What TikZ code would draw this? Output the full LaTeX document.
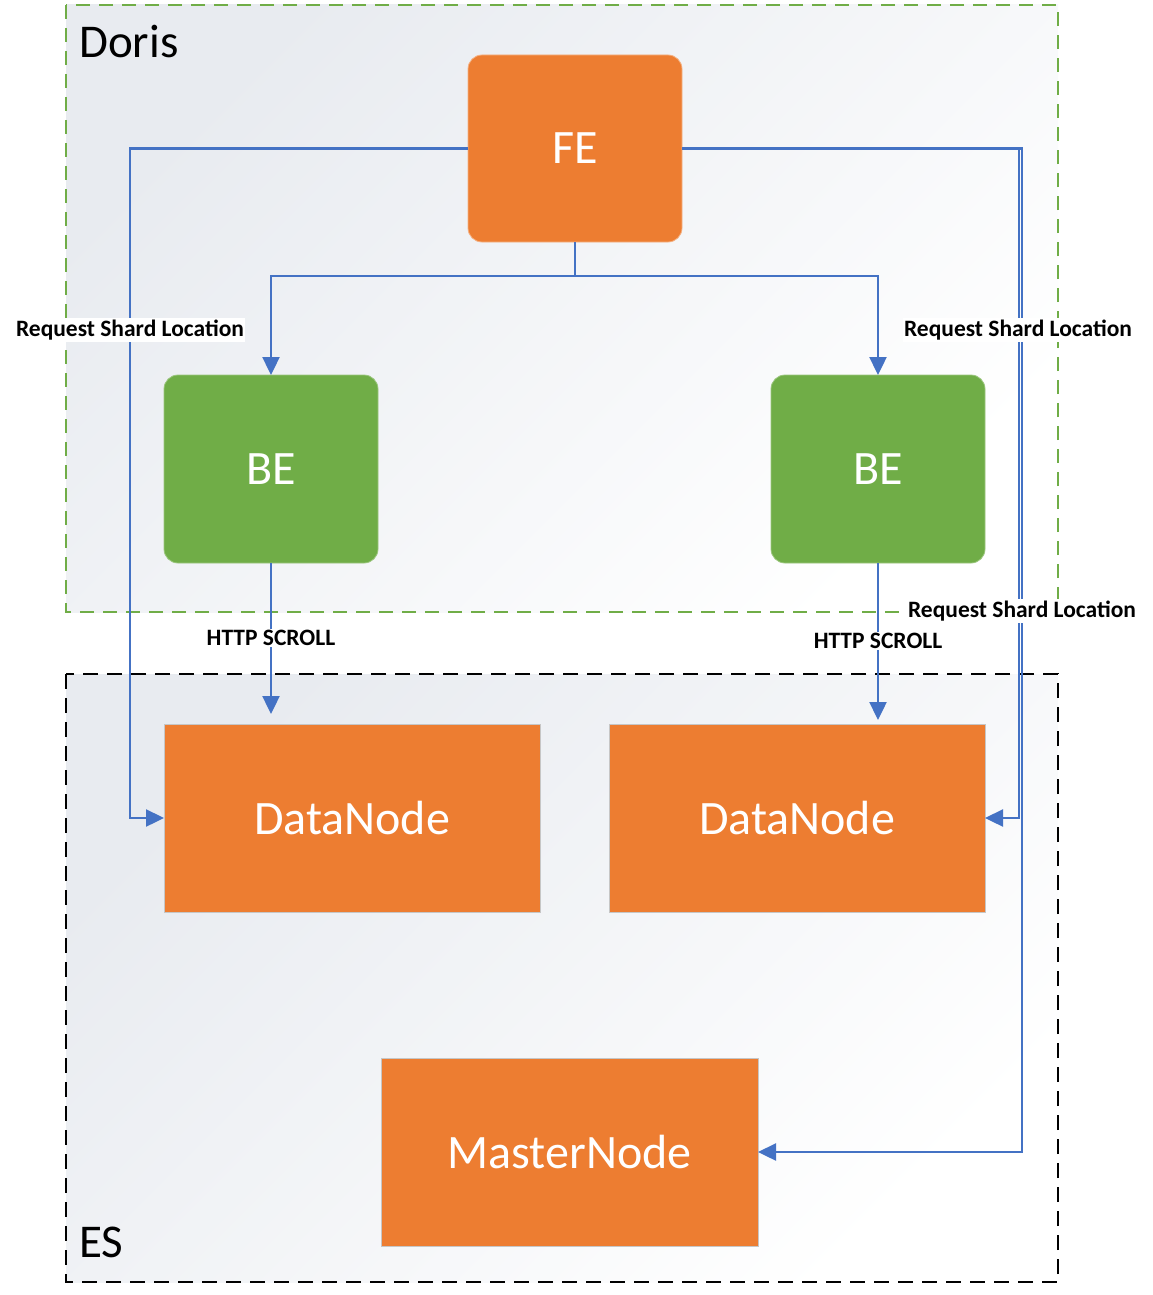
\documentclass[tikz,border=0pt]{standalone}
\usepackage{fontspec}
\setmainfont{Carlito}
\usetikzlibrary{arrows.meta}
\definecolor{dorange}{HTML}{ED7D31}
\definecolor{dgreen}{HTML}{70AD47}
\definecolor{dblue}{HTML}{4472C4}
\definecolor{bggray}{HTML}{E8EBF0}
\tikzset{
  fontbig/.style={font=\fontsize{48}{48}\selectfont},
  orbox/.style={fill=dorange, draw=gray!45, line width=0.8pt, text=white, inner sep=0pt, outer sep=0pt, fontbig},
  rbox/.style={orbox, rounded corners=14pt, draw=dorange!60!white},
  gbox/.style={fill=dgreen, draw=dgreen!70!white, line width=0.8pt, rounded corners=14pt, text=white, inner sep=0pt, outer sep=0pt, fontbig, minimum width=214pt, minimum height=188pt},
  conn/.style={draw=dblue, line width=2.4pt, -{Triangle[length=18pt,width=17pt]}},
  lbl/.style={fill=white, inner sep=1.5pt, font=\bfseries\fontsize{23.5}{23.5}\selectfont},
  grouplbl/.style={anchor=base west, inner sep=0pt, font=\fontsize{47}{47}\selectfont},
}
\begin{document}
\begin{tikzpicture}[x=1pt,y=-1pt]
\useasboundingbox (0,0) rectangle (1152,1295);
\fill[white] (0,0) rectangle (1152,1295);
% group boxes
\shade[top color=bggray, middle color=white, bottom color=white, shading angle=45] (66,5) rectangle (1058,612);
\shade[top color=bggray, middle color=white, bottom color=white, shading angle=45] (66,674) rectangle (1058,1282);
\draw[dgreen, line width=1.8pt, dash pattern=on 14pt off 9pt] (66,5) rectangle (1058,612);
\draw[black, line width=2.2pt, dash pattern=on 15pt off 9pt] (66,674) rectangle (1058,1282);
\node[grouplbl] (doris) at (79,58) {Doris};
\node[grouplbl] (es) at (79,1257) {ES};
% nodes
\node[rbox, minimum width=214pt, minimum height=187pt] (fe) at (575,148.5) {FE};
\node[gbox] (be1) at (271,469) {BE};
\node[gbox] (be2) at (878,469) {BE};
\node[orbox, minimum width=376pt, minimum height=188pt] (dn1) at (352,818) {DataNode};
\node[orbox, minimum width=376pt, minimum height=188pt] (dn2) at (797,818) {DataNode};
\node[orbox, minimum width=377pt, minimum height=188pt] (ms) at (569.5,1152) {MasterNode};
% connectors
\draw[conn] (fe.west) -- ++(-338,0) |- (dn1.west);
\draw[conn] (fe.east) -- ++(337,0) |- (dn2.east);
\draw[conn] (fe.east) -- ++(340,0) |- (ms.east);
\draw[conn] (fe.south) -- ++(0,34) -| (be1.north);
\draw[conn] (fe.south) -- ++(0,34) -| (be2.north);
\draw[conn, shorten >=10pt] (be1.south) -- (be1.south |- dn1.north);
\draw[conn, shorten >=4pt] (be2.south) -- (be2.south |- dn2.north);
% labels
\node[lbl] (l1) at (130,330) {Request Shard Location};
\node[lbl] (l2) at (1018,330) {Request Shard Location};
\node[lbl] (l3) at (1022,611) {Request Shard Location};
\node[lbl] (h1) at (271,638) {HTTP SCROLL};
\node[lbl] (h2) at (878,641) {HTTP SCROLL};
\end{tikzpicture}
\end{document}
